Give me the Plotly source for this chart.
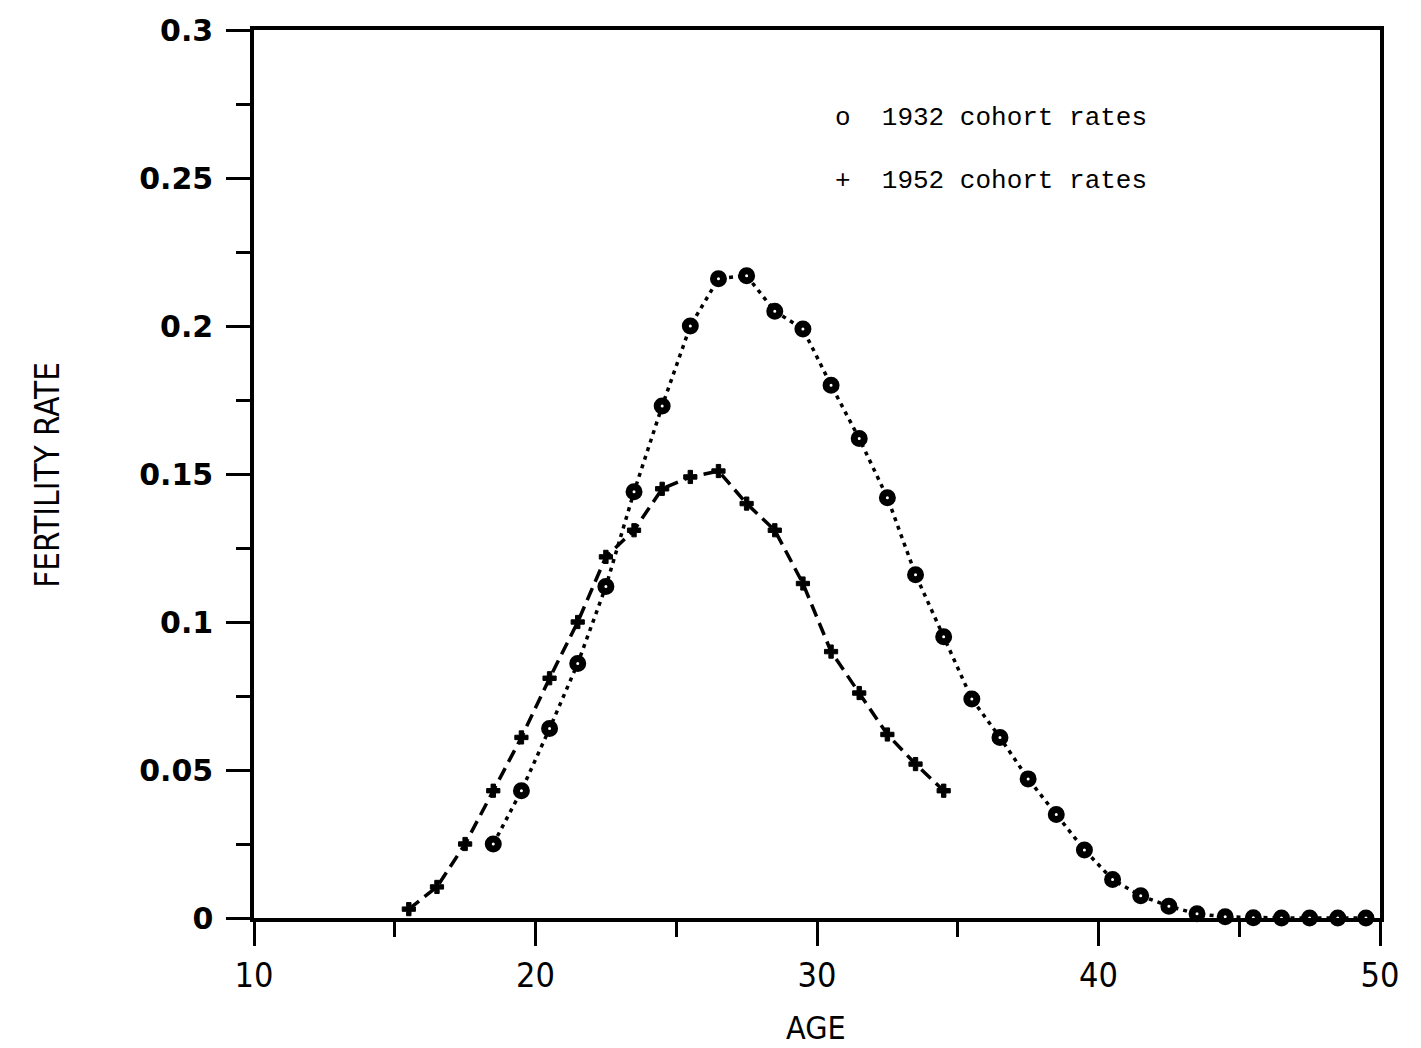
import plotly.graph_objects as go

# Single-year ages (mid-year positions)
ages_1932 = [18.5, 19.5, 20.5, 21.5, 22.5, 23.5, 24.5, 25.5, 26.5, 27.5,
             28.5, 29.5, 30.5, 31.5, 32.5, 33.5, 34.5, 35.5, 36.5, 37.5,
             38.5, 39.5, 40.5, 41.5, 42.5, 43.5, 44.5, 45.5, 46.5, 47.5,
             48.5, 49.5]
rates_1932 = [0.025, 0.043, 0.064, 0.086, 0.112, 0.144, 0.173, 0.200, 0.216, 0.217,
              0.205, 0.199, 0.180, 0.162, 0.142, 0.116, 0.095, 0.074, 0.061, 0.047,
              0.035, 0.023, 0.013, 0.0075, 0.004, 0.0014, 0.0004, 0.0001, 0.0, 0.0,
              0.0, 0.0]

ages_1952 = [15.5, 16.5, 17.5, 18.5, 19.5, 20.5, 21.5, 22.5, 23.5, 24.5,
             25.5, 26.5, 27.5, 28.5, 29.5, 30.5, 31.5, 32.5, 33.5, 34.5]
rates_1952 = [0.003, 0.0105, 0.025, 0.043, 0.061, 0.081, 0.100, 0.122, 0.131, 0.145,
              0.149, 0.151, 0.140, 0.131, 0.113, 0.090, 0.076, 0.062, 0.052, 0.043]

x_ticks = [10, 20, 30, 40, 50]
y_ticks = [0, 0.05, 0.1, 0.15, 0.2, 0.25, 0.3]
y_tick_labels = ["0", "0.05", "0.1", "0.15", "0.2", "0.25", "0.3"]

CONDENSED = "DejaVu Sans Condensed, DejaVu Sans"

fig = go.Figure()

fig.add_trace(go.Scatter(
    x=ages_1932, y=rates_1932, mode="lines+markers", name="1932 cohort rates",
    line=dict(color="black", width=3.5, dash="4px,5px"),
    marker=dict(symbol="circle", size=10, color="white",
                line=dict(color="black", width=7)),
    cliponaxis=False,
))

fig.add_trace(go.Scatter(
    x=ages_1952, y=rates_1952, mode="lines+markers", name="1952 cohort rates",
    line=dict(color="black", width=3.5, dash="13px,7px"),
    marker=dict(symbol="cross", size=11, color="black",
                line=dict(color="black", width=1)),
    cliponaxis=False,
))

fig.update_layout(
    width=1421, height=1048,
    margin=dict(l=254, r=41, t=30, b=130),
    paper_bgcolor="white", plot_bgcolor="white",
    showlegend=False,
    xaxis=dict(
        range=[10, 50], tickvals=x_ticks, ticktext=[str(v) for v in x_ticks],
        showgrid=False, zeroline=False,
        showline=True, linecolor="black", linewidth=3.5, mirror=True,
        ticks="outside", ticklen=24, tickwidth=3, tickcolor="black",
        minor=dict(dtick=5, tick0=10, ticks="outside", ticklen=15,
                   tickwidth=3, tickcolor="black"),
        tickfont=dict(family=CONDENSED, size=34, color="black"),
        ticklabelstandoff=0,
    ),
    yaxis=dict(
        range=[0, 0.3], tickvals=y_ticks, ticktext=y_tick_labels,
        showgrid=False, zeroline=False,
        showline=True, linecolor="black", linewidth=3.5, mirror=True,
        ticks="outside", ticklen=24, tickwidth=3, tickcolor="black",
        minor=dict(dtick=0.025, tick0=0, ticks="outside", ticklen=14,
                   tickwidth=3, tickcolor="black"),
        tickfont=dict(family="DejaVu Sans", size=30, color="black",
                      weight="bold"),
        ticklabelstandoff=7,
    ),
)

# Axis titles
fig.add_annotation(
    text="AGE", xref="paper", yref="paper", x=0.499, y=-0.124,
    showarrow=False, xanchor="center", yanchor="middle",
    font=dict(family=CONDENSED, size=32, color="black"),
)
fig.add_annotation(
    text="FERTILITY RATE", xref="paper", yref="paper", x=-0.183, y=0.499,
    showarrow=False, textangle=-90, xanchor="center", yanchor="middle",
    font=dict(family=CONDENSED, size=33, color="black"),
)

# Key text inside the plot
legend_lines = ["o  1932 cohort rates", "+  1952 cohort rates"]
legend_y = [0.901, 0.830]
for label, yy in zip(legend_lines, legend_y):
    fig.add_annotation(
        text=label, xref="paper", yref="paper", x=0.514, y=yy,
        showarrow=False, xanchor="left", yanchor="middle",
        font=dict(family="Liberation Mono", size=26, color="black"),
    )

fig.write_html("out.html")
